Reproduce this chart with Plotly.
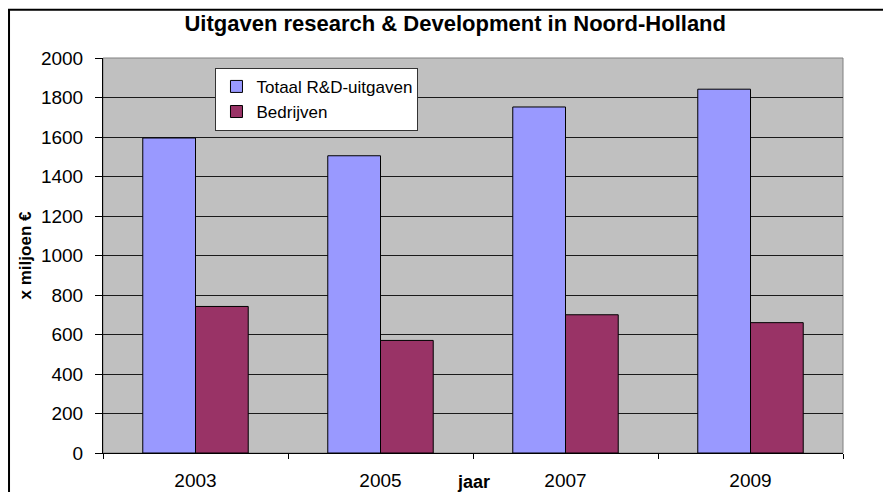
import plotly.graph_objects as go

jaren = ["2003", "2005", "2007", "2009"]
totaal_rd = [1595, 1505, 1752, 1842]
bedrijven = [742, 570, 700, 660]

fig = go.Figure()
fig.add_trace(go.Bar(x=jaren, y=totaal_rd, name="Totaal R&D-uitgaven",
                     marker=dict(color="#9999FF", line=dict(color="black", width=1))))
fig.add_trace(go.Bar(x=jaren, y=bedrijven, name="Bedrijven",
                     marker=dict(color="#993366", line=dict(color="black", width=1))))

font_main = "Arial, Liberation Sans, sans-serif"

# page body has an 8px margin, so the figure is 8px smaller than the window
fig.update_layout(
    width=883, height=484,
    margin=dict(l=95, r=48, t=50, b=39),
    paper_bgcolor="white",
    plot_bgcolor="#C0C0C0",
    font=dict(family=font_main, size=19, color="black"),
    barmode="group",
    bargap=0.43,
    bargroupgap=0,
    title=dict(text="<b>Uitgaven research & Development in Noord-Holland</b>",
               xref="paper", x=0.476, xanchor="center",
               yref="container", y=0.969, yanchor="middle",
               font=dict(size=22)),
    legend=dict(x=0.152, y=0.975, xanchor="left", yanchor="top",
                bgcolor="white", bordercolor="#333333", borderwidth=1,
                font=dict(size=17), tracegroupgap=0, itemwidth=30),
    showlegend=True,
)

fig.update_xaxes(
    type="category", automargin=False,
    showline=True, linecolor="black", linewidth=1,
    ticks="outside", tickson="boundaries", ticklen=5, tickcolor="black",
    showgrid=False, ticklabelstandoff=10,
)
fig.update_yaxes(
    range=[0, 2000], dtick=200, automargin=False,
    showline=True, linecolor="black", linewidth=1,
    ticks="outside", ticklen=7, tickcolor="black",
    gridcolor="#1a1a1a", gridwidth=1, zeroline=False,
    ticklabelstandoff=8,
    title=dict(text="<b>x miljoen €</b>", font=dict(size=17), standoff=4),
)

# plot area border (grey, Excel style) and outer chart frame
fig.add_shape(type="rect", xref="paper", yref="paper", x0=0, x1=1, y0=0, y1=1,
              line=dict(color="#808080", width=1), layer="below")
fig.add_shape(type="rect", xref="paper", yref="paper", x0=-0.127, x1=1.2, y0=-0.3, y1=1.122,
              line=dict(color="black", width=2))

fig.add_annotation(text="<b>jaar</b>", xref="paper", yref="paper", x=0.5, y=-0.074,
                   showarrow=False, font=dict(size=18), xanchor="center", yanchor="middle")

fig.write_html("out.html")
